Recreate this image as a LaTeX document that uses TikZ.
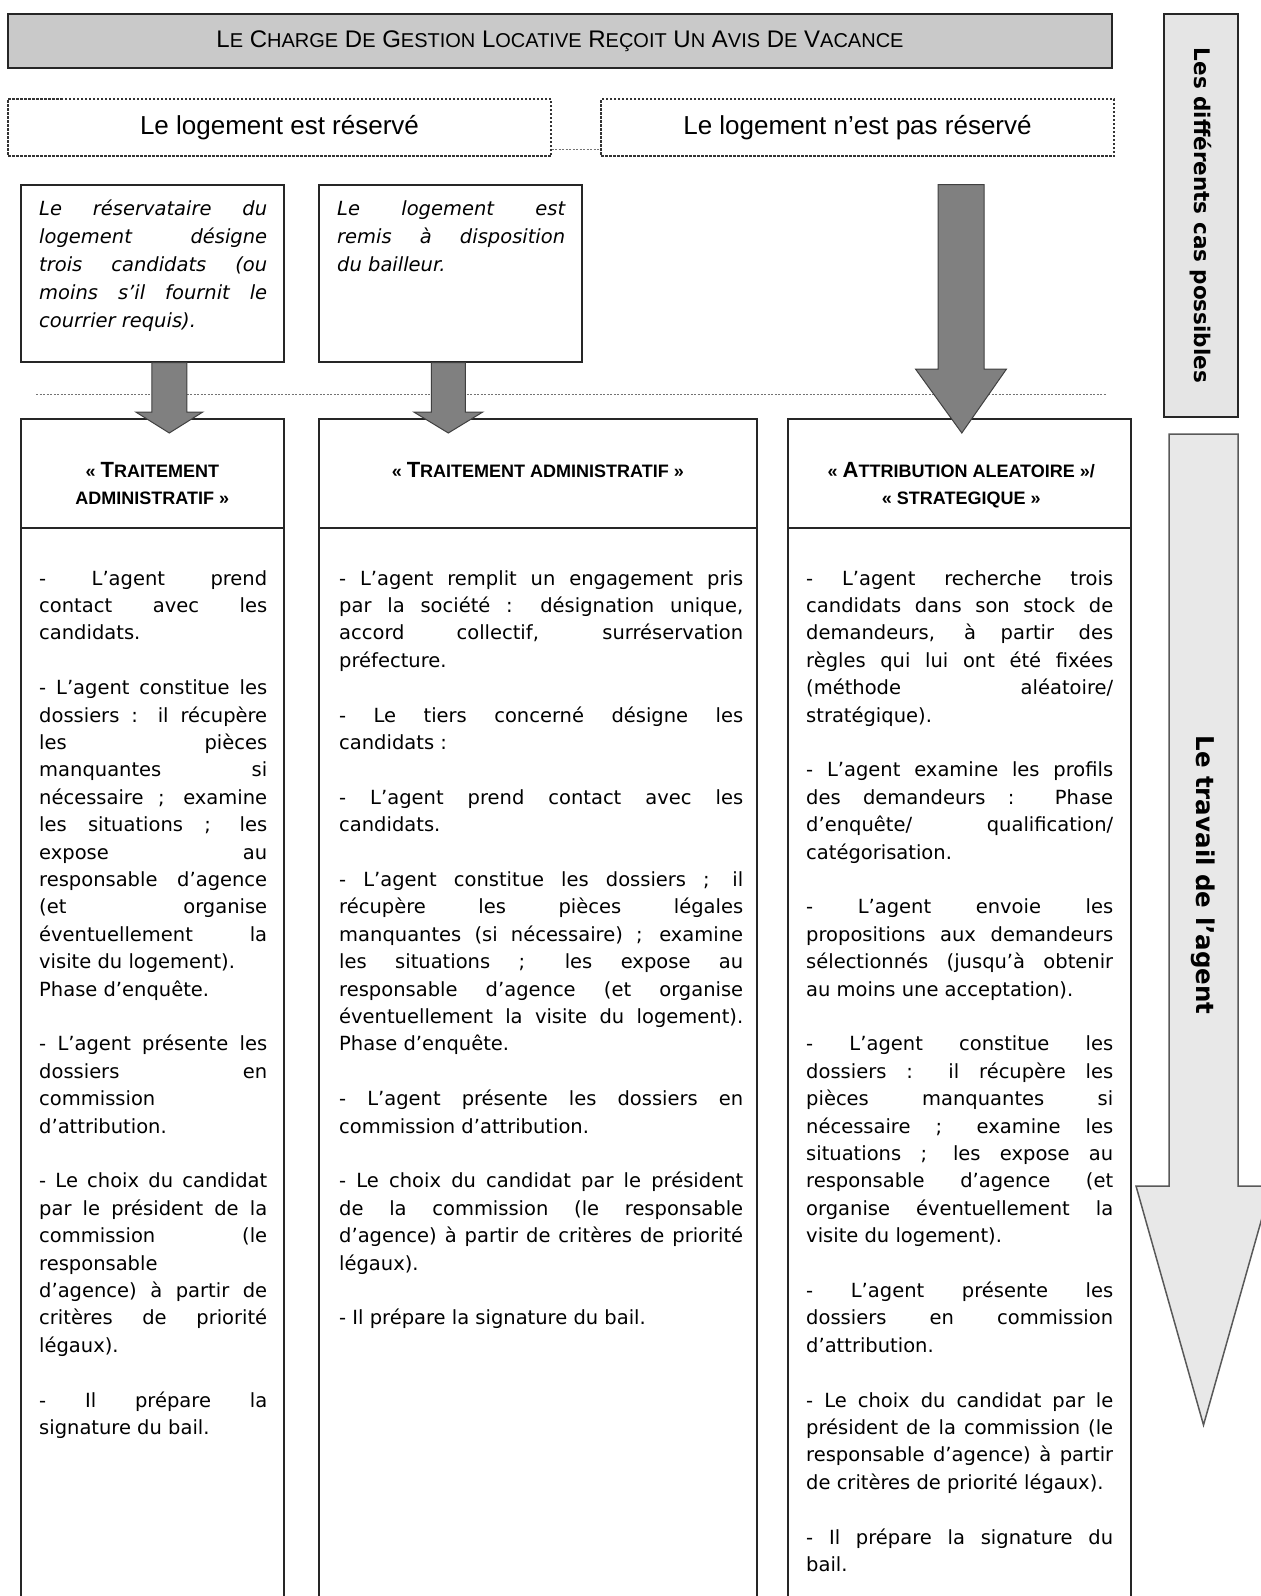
\documentclass[tikz,border=0pt]{standalone}
\usepackage{fontspec}
\usepackage{tikz}
\usetikzlibrary{calc}
\setmainfont{DejaVu Sans}[ItalicFont={DejaVu Sans Oblique},BoldFont={DejaVu Sans Bold}]
\newfontfamily\arial{Liberation Sans}
\tolerance=10000
\hbadness=10000
\hyphenpenalty=10000
\exhyphenpenalty=10000

\newcommand\ptitre[1]{{\fontsize{20}{20}\selectfont #1}}
\newcommand\pentete[1]{{\fontsize{18}{18}\selectfont #1}}
\newcommand\blanc{\par\vspace{27.4pt}}
\newcommand\blocfleche[5]{%
  \filldraw[fleche] let \p1=(#1), \p2=(#2) in
    (\x1-#3,\y1) -- (\x1+#3,\y1) -- (\x1+#3,\y2+#5) -- (\x1+#4,\y2+#5)
    -- (\x2,\y2) -- (\x1-#4,\y2+#5) -- (\x1-#3,\y2+#5) -- cycle;}

\begin{document}
\begin{tikzpicture}[x=1pt,y=-1pt,
  cadre/.style={draw=black!85,line width=1.6pt,inner sep=0pt},
  pointille/.style={draw=black!80,line width=1.2pt,dash pattern=on 2.5pt off 1.5pt,inner sep=0pt,font=\arial\fontsize{26}{30}\selectfont},
  corps/.style={anchor=north west,inner sep=0pt,align=justify,font=\fontsize{19.5}{27.4}\selectfont},
  italique/.style={corps,font=\itshape\fontsize{19.5}{28}\selectfont},
  entete/.style={anchor=north,inner sep=0pt,align=center,font=\arial\bfseries\fontsize{22}{27}\selectfont},
  vertical/.style={rotate=-90,inner sep=0pt},
  fleche/.style={fill=black!50,draw=black!75,line width=1pt},
  lien/.style={draw=black!55,line width=1pt,dash pattern=on 2pt off 1.5pt}]
\useasboundingbox (0,0) rectangle (1261,1596);
\clip (0,0) rectangle (1261,1596);

\node[cadre,fill=black!21,line width=2.4pt,minimum width=1104pt,minimum height=54pt,font=\arial\fontsize{24}{24}\selectfont] (titre) at (560,41)
  {L\ptitre{E} C\ptitre{HARGE} D\ptitre{E} G\ptitre{ESTION} L\ptitre{OCATIVE} R\ptitre{EÇOIT} U\ptitre{N} A\ptitre{VIS} D\ptitre{E} V\ptitre{ACANCE}};

\node[pointille,minimum width=543pt,minimum height=57pt] (reserve) at (279.5,127.5) {Le logement est réservé};
\node[pointille,minimum width=513pt,minimum height=57pt] (libre) at (857.5,127.5) {Le logement n’est pas réservé};
\draw[lien] ([yshift=7pt]reserve.south east) -- ([yshift=7pt]libre.south west);

\node[cadre,fill=black!10,minimum width=74pt,minimum height=403pt] (cas) at (1201,215.5) {};
\node[vertical,font=\bfseries\fontsize{21.5}{24}\selectfont] (castexte) at (cas.center) {Les différents cas possibles};

\node[cadre,minimum width=263pt,minimum height=177pt,anchor=north west] (reservataire) at (20,184) {};
\node[cadre,minimum width=263pt,minimum height=177pt,anchor=north west] (remis) at (318,184) {};
\node[italique,text width=228pt] (txtreservataire) at (39,195.4)
  {\strut Le réservataire du\linebreak logement désigne\linebreak trois candidats (ou\linebreak moins s’il fournit le\linebreak courrier requis).};
\node[italique,text width=228pt] (txtremis) at (337,195.4)
  {\strut Le logement est\linebreak remis à disposition\linebreak du bailleur.};

\node[cadre,minimum width=263pt,minimum height=109pt,anchor=north west] (enteteA) at (20,418) {};
\node[cadre,minimum width=438pt,minimum height=109pt,anchor=north west] (enteteB) at (318,418) {};
\node[cadre,minimum width=343pt,minimum height=109pt,anchor=north west] (enteteC) at (787,418) {};
\node[cadre,minimum width=263pt,minimum height=1100pt,anchor=north west] (colA) at (20,527) {};
\node[cadre,minimum width=438pt,minimum height=1100pt,anchor=north west] (colB) at (318,527) {};
\node[cadre,minimum width=343pt,minimum height=1100pt,anchor=north west] (colC) at (787,527) {};

\node[entete] (titreA) at ($(enteteA.north)+(0,40)$) {\strut\pentete{«~}T\pentete{RAITEMENT}\\ \pentete{ADMINISTRATIF~»}};
\node[entete] (titreB) at ($(enteteB.north)+(0,40)$) {\strut\pentete{«~}T\pentete{RAITEMENT ADMINISTRATIF~»}};
\node[entete] (titreC) at ($(enteteC.north)+(2,40)$) {\strut\pentete{«~}A\pentete{TTRIBUTION ALEATOIRE~»/}\\ \pentete{«~STRATEGIQUE~»}};

\node[corps,text width=228pt] (texteA) at (39,565.8) {\strut
- L’agent prend\linebreak contact avec les\linebreak candidats.\blanc
- L’agent constitue les\linebreak dossiers~: il récupère\linebreak les pièces\linebreak manquantes si\linebreak nécessaire~; examine\linebreak les situations~; les\linebreak expose au\linebreak responsable d’agence\linebreak (et organise\linebreak éventuellement la\linebreak visite du logement).\newline Phase d’enquête.\blanc
- L’agent présente les\linebreak dossiers en\linebreak commission\newline d’attribution.\blanc
- Le choix du candidat\linebreak par le président de la\linebreak commission (le\linebreak responsable\newline d’agence) à partir de\linebreak critères de priorité\linebreak légaux).\blanc
- Il prépare la\linebreak signature du bail.};

\node[corps,text width=404pt] (texteB) at (339,565.8) {\strut
- L’agent remplit un engagement pris\linebreak par la société~: désignation unique,\linebreak accord collectif, surréservation\linebreak préfecture.\blanc
- Le tiers concerné désigne les\linebreak candidats~:\blanc
- L’agent prend contact avec les\linebreak candidats.\blanc
- L’agent constitue les dossiers~; il\linebreak récupère les pièces légales\linebreak manquantes (si nécessaire)~; examine\linebreak les situations~; les expose au\linebreak responsable d’agence (et organise\linebreak éventuellement la visite du logement).\linebreak Phase d’enquête.\blanc
- L’agent présente les dossiers en\linebreak commission d’attribution.\blanc
- Le choix du candidat par le président\linebreak de la commission (le responsable\linebreak d’agence) à partir de critères de priorité\linebreak légaux).\blanc
- Il prépare la signature du bail.};

\node[corps,text width=307pt] (texteC) at (806,565.8) {\strut
- L’agent recherche trois\linebreak candidats dans son stock de\linebreak demandeurs, à partir des\linebreak règles qui lui ont été fixées\linebreak (méthode aléatoire/\linebreak stratégique).\blanc
- L’agent examine les profils\linebreak des demandeurs~: Phase\linebreak d’enquête/ qualification/\linebreak catégorisation.\blanc
- L’agent envoie les\linebreak propositions aux demandeurs\linebreak sélectionnés (jusqu’à obtenir\linebreak au moins une acceptation).\blanc
- L’agent constitue les\linebreak dossiers~: il récupère les\linebreak pièces manquantes si\linebreak nécessaire~; examine les\linebreak situations~; les expose au\linebreak responsable d’agence (et\linebreak organise éventuellement la\linebreak visite du logement).\blanc
- L’agent présente les\linebreak dossiers en commission\linebreak d’attribution.\blanc
- Le choix du candidat par le\linebreak président de la commission (le\linebreak responsable d’agence) à partir\linebreak de critères de priorité légaux).\blanc
- Il prépare la signature du\linebreak bail.};

\draw[lien] (36,394) -- (1107,394);

\blocfleche{$(reservataire.south)+(17,0)$}{$(reservataire.south |- enteteA.north)+(17,15)$}{17.5}{33.5}{21}
\blocfleche{$(remis.south)+(-2,0)$}{$(remis.south |- enteteB.north)+(-2,15)$}{17}{34.5}{21}
\blocfleche{$(libre.south)+(103.5,28)$}{$(enteteC.north)+(2.5,15)$}{23}{45.5}{64}

\filldraw[fill=black!9,draw=black!65,line width=1.5pt] (1169,434) -- (1238,434) -- (1238,1186) -- (1271,1186) -- (1203.5,1425) -- (1136,1186) -- (1169,1186) -- cycle;
\node[vertical,font=\bfseries\fontsize{24.5}{28}\selectfont] (travail) at (1203.5,875) {Le travail de l’agent};
\end{tikzpicture}
\end{document}
